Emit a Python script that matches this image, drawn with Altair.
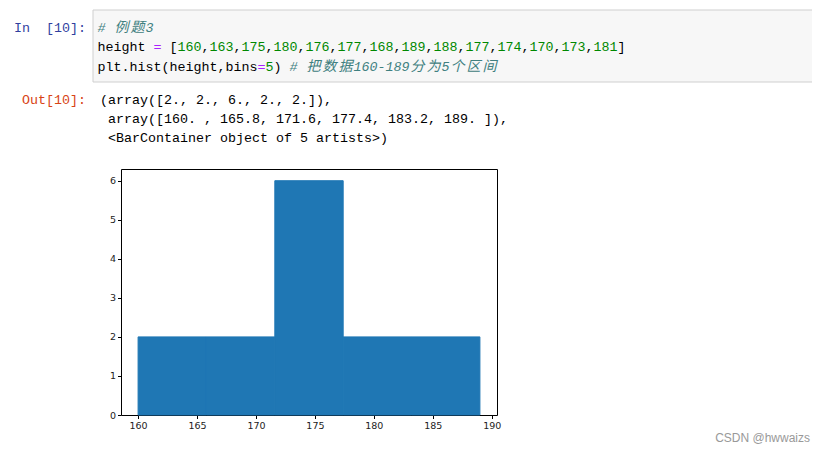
import altair as alt
import numpy as np
import pandas as pd

# ---------------- data ----------------
height = [160, 163, 175, 180, 176, 177, 168, 189, 188, 177, 174, 170, 173, 181]
n_bins = 5
x_ticks = [160, 165, 170, 175, 180, 185, 190]
y_ticks = [0, 1, 2, 3, 4, 5, 6]

counts, edges = np.histogram(height, bins=n_bins)
hist_df = pd.DataFrame({
    "left": edges[:-1],
    "right": edges[1:],
    "count": counts,
    "base": np.zeros(len(counts)),
})

# notebook text (code cell and output)
comment1 = "# 例题3"
comment3 = "# 把数据160-189分为5个区间"
out_lines = [
    "(array([2., 2., 6., 2., 2.]),",
    " array([160. , 165.8, 171.6, 177.4, 183.2, 189. ]),",
    " <BarContainer object of 5 artists>)",
]
watermark = "CSDN @hwwaizs"

# ---------------- layout helpers ----------------
PX0, PY0 = 121, 169          # page position of plot area's top-left
CW = 8.0                     # monospace cell width
COLORS = {"plain": "#000000", "op": "#AA22FF", "num": "#008800",
          "com": "#408080", "in": "#303F9F", "out": "#D84315"}

line2 = [("height", "plain"), (" ", "plain"), ("=", "op"), (" [", "plain")]
for i, h in enumerate(height):
    line2.append((str(h), "num"))
    line2.append(("," if i < len(height) - 1 else "]", "plain"))

lines = [
    (14, 28, [("In  [10]:", "in")]),
    (97.5, 28, [(comment1, "com")]),
    (97.5, 47, line2),
    (97.5, 66.5, [("plt.hist(height,bins", "plain"), ("=", "op"), ("5", "num"),
                  (") ", "plain"), (comment3, "com")]),
    (22, 100, [("Out[10]:", "out")]),
]
for k, t in enumerate(out_lines):
    lines.append((100, 100 + 19 * k, [(t, "plain")]))

mono_rows, ital_rows, cjk_rows = [], [], []
for x0, yc, pieces in lines:
    col = 0
    for text, style in pieces:
        word, wcol = "", 0
        def flush(word, wcol):
            if word:
                row = {"px": x0 + wcol * CW - PX0, "py": yc - PY0,
                       "text": word, "color": COLORS[style]}
                (ital_rows if style == "com" else mono_rows).append(row)
        for ch in text:
            if ord(ch) > 0x2E80:
                flush(word, wcol); word = ""
                cjk_rows.append({"px": x0 + (col + 1) * CW - PX0, "py": yc - PY0,
                                 "text": ch, "color": COLORS[style]})
                col += 2
            elif ch == " ":
                flush(word, wcol); word = ""
                col += 1
            else:
                if not word:
                    wcol = col
                word += ch
                col += 1
        flush(word, wcol)

def text_layer(rows, **kw):
    return alt.Chart(pd.DataFrame(rows)).mark_text(baseline="middle", **kw).encode(
        x=alt.X("px:Q", scale=None, axis=None),
        y=alt.Y("py:Q", scale=None, axis=None),
        color=alt.Color("color:N", scale=None, legend=None),
        text="text:N",
    )

one = pd.DataFrame({"a": [0]})
box = alt.Chart(one).mark_rect(fill="#f7f7f7", stroke="#cfcfcf", strokeWidth=1).encode(
    x=alt.value(93 - PX0), x2=alt.value(840 - PX0),
    y=alt.value(10 - PY0), y2=alt.value(82 - PY0),
)

mono = text_layer(mono_rows, align="left", font="Liberation Mono", fontSize=13.33)
ital = text_layer(ital_rows, align="left", font="Liberation Mono", fontSize=13.33,
                  fontStyle="italic")
cjk = text_layer(cjk_rows, align="center", font="Noto Sans CJK SC", fontSize=14,
                 fontStyle="italic")

wm = alt.Chart(one).mark_text(align="right", baseline="middle", font="Liberation Sans",
                              fontSize=12, color="#999999").encode(
    x=alt.value(810 - PX0), y=alt.value(437.5 - PY0), text=alt.value(watermark))

span = edges[-1] - edges[0]
xdom = [edges[0] - 0.05 * span, edges[-1] + 0.05 * span]
ydom = [0, counts.max() * 1.05]

bars = alt.Chart(hist_df).mark_rect(color="#1f77b4", stroke="#1f77b4",
                                    strokeWidth=1).encode(
    x=alt.X("left:Q", scale=alt.Scale(domain=xdom, nice=False, zero=False),
            axis=alt.Axis(values=x_ticks, format="d", title=None)),
    x2="right:Q",
    y=alt.Y("count:Q", scale=alt.Scale(domain=ydom, nice=False),
            axis=alt.Axis(values=y_ticks, format="d", title=None)),
    y2="base:Q",
)

chart = alt.layer(box, mono, ital, cjk, wm, bars).resolve_scale(
    x="independent", y="independent", color="independent"
).properties(
    width=376, height=246,
    autosize=alt.AutoSizeParams(type="none"),
    padding={"left": 113, "top": 161, "right": 315, "bottom": 30},
).configure_view(stroke="black", strokeWidth=1).configure_axis(
    grid=False, domain=False, tickColor="black", tickSize=3.5, tickWidth=1,
    labelFont="DejaVu Sans", labelFontSize=9.5, labelColor="#222222", labelPadding=2,
)

chart.save("out.html", embed_options={"renderer": "svg", "actions": False})
